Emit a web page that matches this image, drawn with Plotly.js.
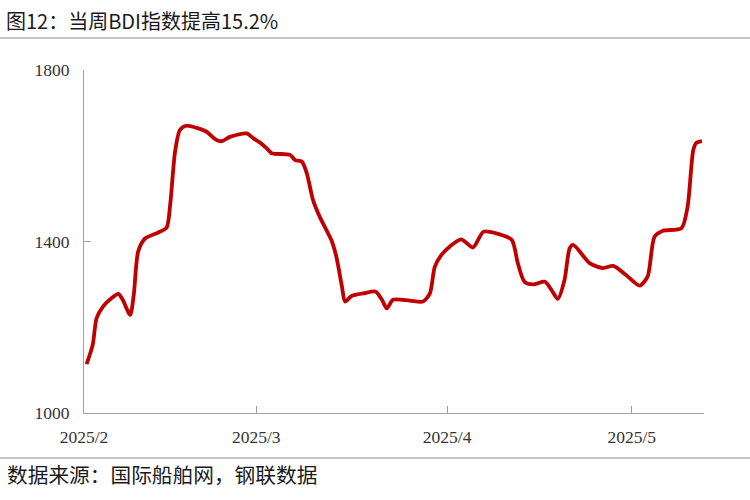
<!DOCTYPE html>
<html>
<head>
<meta charset="utf-8">
<script src="https://cdn.plot.ly/plotly-3.0.1.min.js"></script>
<style>html,body{margin:0;padding:0;background:#fff;}#chart{width:750px;height:500px;}</style>
</head>
<body>
<div id="chart"></div>
<script>
// Data
const dates = [
  '2025-02-01 10:00','2025-02-02 10:00','2025-02-03 01:00','2025-02-04 02:00','2025-02-05 12:00',
  '2025-02-06 14:00','2025-02-07 07:00','2025-02-08 12:00','2025-02-09 02:00','2025-02-09 19:00',
  '2025-02-10 22:00','2025-02-13 02:00','2025-02-14 10:00','2025-02-15 00:00','2025-02-15 19:00',
  '2025-02-16 14:00','2025-02-17 14:00','2025-02-19 07:00','2025-02-20 22:00','2025-02-22 12:00',
  '2025-02-23 10:00','2025-02-24 17:00','2025-02-27 10:00','2025-02-28 12:00','2025-03-01 14:00',
  '2025-03-02 17:00','2025-03-03 12:00','2025-03-06 12:00','2025-03-07 07:00','2025-03-08 10:00',
  '2025-03-09 05:00','2025-03-10 05:00','2025-03-11 07:00','2025-03-13 05:00','2025-03-14 00:00',
  '2025-03-14 22:00','2025-03-15 10:00','2025-03-16 12:00','2025-03-18 10:00','2025-03-20 10:00',
  '2025-03-21 10:00','2025-03-22 05:00','2025-03-23 05:00','2025-03-25 22:00','2025-03-28 02:00',
  '2025-03-29 05:00','2025-03-30 00:00','2025-03-31 02:00','2025-04-01 10:00','2025-04-03 07:00',
  '2025-04-05 05:00','2025-04-06 22:00','2025-04-09 00:00','2025-04-11 12:00','2025-04-12 12:00',
  '2025-04-13 14:00','2025-04-15 00:00','2025-04-16 22:00','2025-04-17 23:00','2025-04-19 00:00',
  '2025-04-20 02:00','2025-04-20 22:00','2025-04-21 12:00','2025-04-24 05:00','2025-04-26 07:00',
  '2025-04-28 00:00','2025-04-30 02:00','2025-05-02 07:00','2025-05-03 14:00','2025-05-04 17:00',
  '2025-05-06 02:00','2025-05-09 02:00','2025-05-10 02:00','2025-05-11 00:00','2025-05-11 12:00',
  '2025-05-12 10:00'
];
const bdi = [
  1114,1159,1221,1248,1268,
  1278,1264,1229,1275,1376,
  1407,1421,1432,1485,1609,
  1660,1670,1665,1656,1637,
  1634,1644,1652,1641,1631,
  1617,1606,1602,1590,1586,
  1559,1497,1458,1403,1365,
  1295,1260,1273,1279,1283,
  1264,1244,1264,1262,1260,
  1279,1341,1369,1388,1405,
  1386,1423,1419,1404,1349,
  1306,1300,1306,1287,1266,
  1310,1384,1392,1349,1338,
  1343,1322,1297,1318,1411,
  1425,1431,1481,1613,1630,
  1634
];
const xTickVals = ['2025-02-01','2025-03-01','2025-04-01','2025-05-01'];
const xTickText = ['2025/2','2025/3','2025/4','2025/5'];
const yTickVals = [1000,1400,1800];
const titleText = '图12：当周BDI指数提高15.2%';
const sourceText = '数据来源：国际船舶网，钢联数据';

const axisGrey = '#a0a0a0';
const tickFont = {family: '"Liberation Serif", "Times New Roman", serif', size: 17.5, color: '#333333'};
const cjkFont = '"Noto Sans CJK SC", sans-serif';

const trace = {
  x: dates, y: bdi, type: 'scatter', mode: 'lines',
  line: {color: '#C00000', width: 3.8, shape: 'spline', smoothing: 0.7},
  hoverinfo: 'skip'
};

const layout = {
  width: 750, height: 500,
  margin: {l: 84, r: 46, t: 70, b: 87},
  paper_bgcolor: '#ffffff', plot_bgcolor: '#ffffff',
  showlegend: false,
  title: {
    text: titleText, x: 0.008, xanchor: 'left', xref: 'container',
    y: 0.956, yanchor: 'middle', yref: 'container',
    font: {family: cjkFont, size: 20, color: '#1a1a1a'}
  },
  xaxis: {
    type: 'date', range: ['2025-02-01', '2025-05-12 18:00'],
    tickmode: 'array', tickvals: xTickVals, ticktext: xTickText,
    ticks: 'inside', ticklen: 7, tickcolor: axisGrey, tickwidth: 1,
    showline: true, linecolor: axisGrey, linewidth: 1,
    showgrid: false, zeroline: false,
    tickfont: tickFont, ticklabelstandoff: 8
  },
  yaxis: {
    range: [1000, 1800], tickmode: 'array', tickvals: yTickVals,
    ticks: 'inside', ticklen: 7, tickcolor: axisGrey, tickwidth: 1,
    showline: true, linecolor: axisGrey, linewidth: 1,
    showgrid: false, zeroline: false,
    tickfont: tickFont, ticklabelstandoff: 10
  },
  shapes: [
    {type: 'line', xref: 'paper', yref: 'paper', x0: -0.1355, x1: 1.075, y0: 1.0933, y1: 1.0933,
     line: {color: '#8c8c8c', width: 1.2}},
    {type: 'line', xref: 'paper', yref: 'paper', x0: -0.1355, x1: 1.075, y0: -0.1312, y1: -0.1312,
     line: {color: '#8c8c8c', width: 1.2}}
  ],
  annotations: [
    {text: sourceText, xref: 'paper', yref: 'paper', x: -0.127, y: -0.178,
     xanchor: 'left', yanchor: 'middle', showarrow: false,
     font: {family: cjkFont, size: 20.7, color: '#1a1a1a'}}
  ]
};

Plotly.newPlot('chart', [trace], layout, {displayModeBar: false, staticPlot: true});
</script>
</body>
</html>
